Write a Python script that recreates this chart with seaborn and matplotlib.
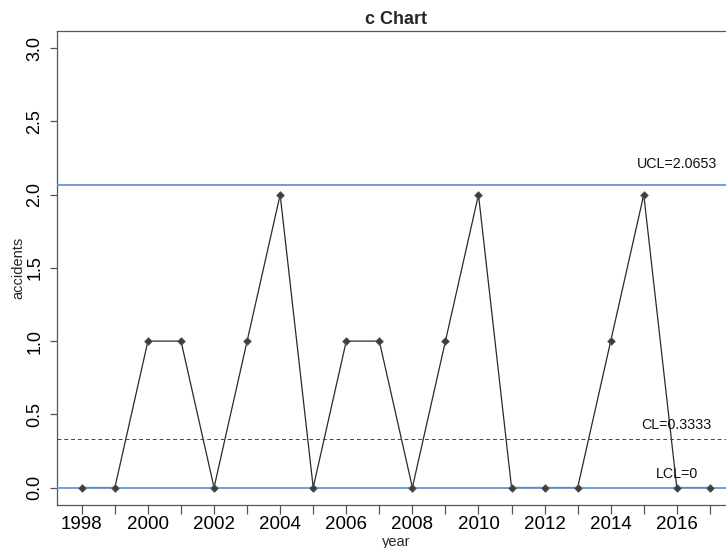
import matplotlib
matplotlib.use("Agg")
import matplotlib.pyplot as plt
import seaborn as sns
import pandas as pd

# Yearly accident counts
years = [1998, 1999, 2000, 2001, 2002, 2003, 2004, 2005, 2006, 2007,
         2008, 2009, 2010, 2011, 2012, 2013, 2014, 2015, 2016, 2017]
accidents = [0, 0, 1, 1, 0, 1, 2, 0, 1, 1,
             0, 1, 2, 0, 0, 0, 1, 2, 0, 0]

# Control limits of the c chart
center_line = 0.3333
upper_limit = 2.0653
lower_limit = 0

y_ticks = [0.0, 0.5, 1.0, 1.5, 2.0, 2.5, 3.0]
x_label_years = [1998, 2000, 2002, 2004, 2006, 2008, 2010, 2012, 2014, 2016]

df = pd.DataFrame({"year": years, "accidents": accidents})

sns.set_style("ticks")
plt.rcParams["font.family"] = ["Liberation Sans", "DejaVu Sans"]

W, H = 726, 548
fig = plt.figure(figsize=(W / 100, H / 100), dpi=100)
left, right, top, bottom = 56.7, 735.0, 30.7, 505.1
ax = fig.add_axes([left / W, 1 - bottom / H, (right - left) / W, (bottom - top) / H])

axis_col = "#555555"
blue = "#6495d8"
pt_col = "#3c3c3c"

sns.lineplot(data=df, x="year", y="accidents", ax=ax, color="#2a2a2a",
             linewidth=0.9, zorder=2)
ax.axhline(upper_limit, color=blue, linewidth=1.3, zorder=3)
ax.axhline(lower_limit, color=blue, linewidth=1.3, zorder=3)
ax.axhline(center_line, color="#444444", linewidth=0.7, linestyle=(0, (4, 3)), zorder=3)
sns.scatterplot(data=df, x="year", y="accidents", ax=ax, marker="D", s=15,
                color=pt_col, edgecolor="#5a5a5a", linewidth=0.6, zorder=4)

ax.set_xlim(1997.24, 2017.76)
ax.set_ylim(-0.12, 3.12)
ax.set_xticks(years)
ax.set_xticklabels([str(y) if y in x_label_years else "" for y in years])
ax.set_yticks(y_ticks)
ax.set_yticklabels([f"{v:.1f}" for v in y_ticks], rotation=90, va="center")

for s in ax.spines.values():
    s.set_color(axis_col)
    s.set_linewidth(0.9)
ax.tick_params(axis="both", colors=axis_col, labelcolor="black",
               length=5, width=0.9)
ax.tick_params(axis="x", length=6.5, pad=1.5, labelsize=13.5)
ax.tick_params(axis="y", pad=4.5, labelsize=13)

ax.set_xlabel("")
ax.set_ylabel("")
fig.text(396 / W, 1 - 542 / H, "year", ha="center", va="center", fontsize=10.5)
fig.text(18 / W, 1 - 268 / H, "accidents", ha="center", va="center",
         rotation=90, fontsize=10.5)
fig.text(396 / W, 1 - 19 / H, "c Chart", ha="center", va="center",
         fontsize=13, fontweight="bold")

label_x = 2016
for val, txt, off in [(upper_limit, f"UCL={upper_limit}", 15.5),
                      (center_line, f"CL={center_line}", 10.2),
                      (lower_limit, f"LCL={lower_limit}", 9.8)]:
    ax.annotate(txt, xy=(label_x, val), xytext=(0, off), textcoords="offset points",
                ha="center", va="center", fontsize=10.3, color="#111111")

fig.savefig("out.png", dpi=100)
